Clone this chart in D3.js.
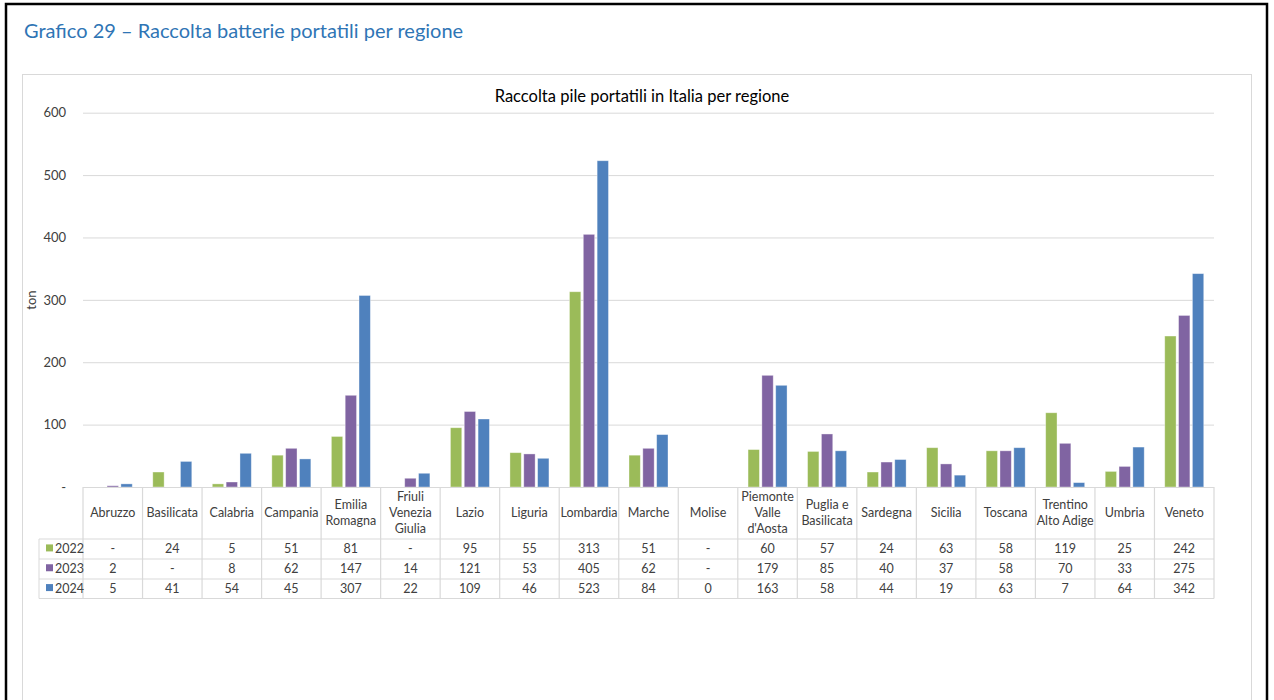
<!DOCTYPE html>
<html>
<head>
<meta charset="utf-8">
<script src="https://cdn.jsdelivr.net/npm/d3@7"></script>
<style>
  body { margin: 0; background: #fff; }
  svg text { font-family: Lato, "Open Sans", sans-serif; }
</style>
</head>
<body>
<svg id="vis" width="1274" height="700"></svg>
<script>
// regions (line breaks as in the table header)
var regions = ["Abruzzo", "Basilicata", "Calabria", "Campania", "Emilia\nRomagna",
  "Friuli\nVenezia\nGiulia", "Lazio", "Liguria", "Lombardia", "Marche", "Molise",
  "Piemonte\nValle\nd'Aosta", "Puglia e\nBasilicata", "Sardegna", "Sicilia", "Toscana",
  "Trentino\nAlto Adige", "Umbria", "Veneto"];
var years = ["2022", "2023", "2024"];
// null = "-" in the table
var v2022 = [null, 24, 5, 51, 81, null, 95, 55, 313, 51, null, 60, 57, 24, 63, 58, 119, 25, 242];
var v2023 = [2, null, 8, 62, 147, 14, 121, 53, 405, 62, null, 179, 85, 40, 37, 58, 70, 33, 275];
var v2024 = [5, 41, 54, 45, 307, 22, 109, 46, 523, 84, 0, 163, 58, 44, 19, 63, 7, 64, 342];
var yTicks = [0, 100, 200, 300, 400, 500, 600];
var colors = ["#9BBB59", "#8064A2", "#4F81BD"];

var series = [v2022, v2023, v2024];

function whenDocumentLoaded(action) {
	if (document.readyState === "loading") {
		document.addEventListener("DOMContentLoaded", action);
	} else {
		action();
	}
}

whenDocumentLoaded(() => {
	var svg = d3.select("#vis");
	var grid = "#D9D9D9";
	var txt = "#404040";

	// outer page frame
	svg.append("rect")
	   .attr("x", 6).attr("y", 4).attr("width", 1261).attr("height", 720)
	   .attr("fill", "none").attr("stroke", "#000").attr("stroke-width", 2.5);

	svg.append("text")
	   .attr("x", 24).attr("y", 38)
	   .attr("fill", "#2F75B5")
	   .style("font-size", "20px")
	   .text("Grafico 29 \u2013 Raccolta batterie portatili per regione");

	// chart area frame
	svg.append("rect")
	   .attr("x", 22.5).attr("y", 74.5).attr("width", 1229).attr("height", 700)
	   .attr("fill", "none").attr("stroke", grid);

	svg.append("text")
	   .attr("x", 642).attr("y", 102)
	   .attr("text-anchor", "middle")
	   .attr("fill", "#000")
	   .style("font-size", "16.5px")
	   .text("Raccolta pile portatili in Italia per regione");

	var x0 = d3.scaleBand().domain(d3.range(regions.length)).range([83, 1214]);
	var x1 = d3.scaleBand().domain(years).range([-19.5, 19.5]).paddingInner(0.18);
	var y = d3.scaleLinear().domain([0, 600]).range([487, 112.7]);

	var yAxis = d3.axisLeft(y)
	              .tickValues(yTicks)
	              .tickSize(-(1214 - 83))
	              .tickPadding(17)
	              .tickFormat(d => d === 0 ? "-" : d);
	var ga = svg.append("g").attr("transform", "translate(83,0)").call(yAxis);
	ga.select(".domain").remove();
	ga.selectAll(".tick line").attr("stroke", grid);
	ga.selectAll(".tick text")
	  .attr("fill", txt)
	  .style("font-size", "13px")
	  .style("font-family", "Lato, sans-serif");

	svg.append("text")
	   .attr("transform", "translate(36,300) rotate(-90)")
	   .attr("text-anchor", "middle")
	   .attr("fill", txt)
	   .style("font-size", "13px")
	   .text("ton");

	// bars
	series.forEach((vals, si) => {
		var pts = vals.map((v, i) => ({ i: i, v: v })).filter(d => d.v);
		svg.append("g").selectAll("rect")
		   .data(pts)
		   .enter()
		   .append("rect")
		   .attr("x", d => x0(d.i) + x0.bandwidth() / 2 + x1(years[si]))
		   .attr("width", x1.bandwidth())
		   .attr("y", d => y(d.v))
		   .attr("height", d => y(0) - y(d.v))
		   .attr("fill", colors[si])
		   .attr("stroke", "rgba(255,255,255,0.45)")
		   .attr("stroke-width", 0.8);
	});

	// data table
	var rowY = d3.scaleBand().domain(years).range([539, 598.5]);
	var tbl = svg.append("g");
	tbl.append("line").attr("x1", 83).attr("x2", 1214).attr("y1", 487.5).attr("y2", 487.5).attr("stroke", grid);
	[539, 559, 579, 598.5].forEach(yy => {
		tbl.append("line").attr("x1", 39).attr("x2", 1214).attr("y1", yy).attr("y2", yy)
		   .attr("stroke", grid).attr("stroke-width", 1.2);
	});
	tbl.append("line").attr("x1", 39).attr("x2", 39).attr("y1", 539).attr("y2", 598.5).attr("stroke", grid);
	d3.range(regions.length + 1).forEach(i => {
		var xx = i < regions.length ? x0(i) : 1214;
		tbl.append("line").attr("x1", xx).attr("x2", xx).attr("y1", 487).attr("y2", 598.5)
		   .attr("stroke", grid).attr("stroke-width", 1.2);
	});

	// header labels
	regions.forEach((r, i) => {
		var lines = r.split("\n");
		var t = tbl.append("text")
		           .attr("text-anchor", "middle")
		           .attr("fill", txt)
		           .style("font-size", "12.5px");
		lines.forEach((ln, k) => {
			t.append("tspan")
			 .attr("x", x0(i) + x0.bandwidth() / 2)
			 .attr("y", 513 + (k - (lines.length - 1) / 2) * 16 + 4)
			 .text(ln);
		});
	});

	// rows
	years.forEach((yr, si) => {
		var cy = rowY(yr) + rowY.bandwidth() / 2 + 4.5;
		tbl.append("rect")
		   .attr("x", 46).attr("y", cy - 9).attr("width", 7).attr("height", 7)
		   .attr("fill", colors[si]);
		tbl.append("text")
		   .attr("x", 55).attr("y", cy)
		   .attr("fill", txt)
		   .style("font-size", "12.5px")
		   .text(yr);
		tbl.selectAll(null)
		   .data(series[si])
		   .enter()
		   .append("text")
		   .attr("x", (d, i) => x0(i) + x0.bandwidth() / 2)
		   .attr("y", cy)
		   .attr("text-anchor", "middle")
		   .attr("fill", txt)
		   .style("font-size", "12.5px")
		   .text(d => d === null ? "-" : d);
	});
});
</script>
</body>
</html>
